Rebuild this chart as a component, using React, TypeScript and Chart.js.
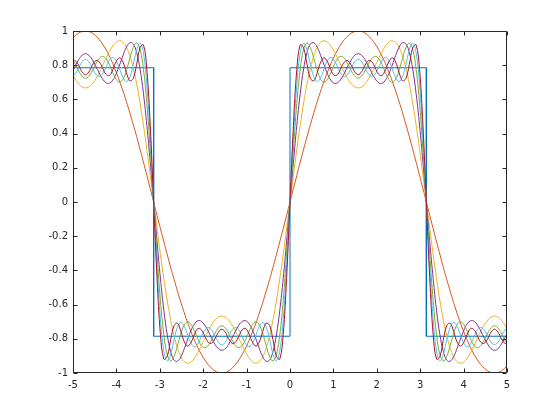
import React, { useEffect, useRef } from "react";
import { Chart, registerables } from "chart.js";

Chart.register(...registerables);

// x samples (step pi/40)
const xs = [
  -5.027,-4.948,-4.869,-4.791,-4.712,-4.634,-4.555,-4.477,-4.398,-4.320,-4.241,-4.163,-4.084,-4.006,-3.927,-3.848,-3.770,-3.691,-3.613,-3.534,-3.456,-3.377,-3.299,-3.220,-3.142,-3.063,-2.985,-2.906,-2.827,-2.749,-2.670,-2.592,-2.513,-2.435,-2.356,-2.278,-2.199,-2.121,-2.042,-1.963,-1.885,-1.806,-1.728,-1.649,-1.571,-1.492,-1.414,-1.335,-1.257,-1.178,-1.100,-1.021,-0.942,-0.864,-0.785,-0.707,-0.628,-0.550,-0.471,-0.393,-0.314,-0.236,-0.157,-0.079,
  0,
  0.079,0.157,0.236,0.314,0.393,0.471,0.550,0.628,0.707,0.785,0.864,0.942,1.021,1.100,1.178,1.257,1.335,1.414,1.492,1.571,1.649,1.728,1.806,1.885,1.963,2.042,2.121,2.199,2.278,2.356,2.435,2.513,2.592,2.670,2.749,2.827,2.906,2.985,3.063,3.142,3.220,3.299,3.377,3.456,3.534,3.613,3.691,3.770,3.848,3.927,4.006,4.084,4.163,4.241,4.320,4.398,4.477,4.555,4.634,4.712,4.791,4.869,4.948,5.027,
];

// square wave outline
const squareX = [-5, -3.1416, -3.1416, 0, 0, 3.1416, 3.1416, 5];
const squareY = [0.785, 0.785, -0.785, -0.785, 0.785, 0.785, -0.785, -0.785];

const s1 = [
  .951,.972,.988,.997,
  1,.997,.988,.972,.951,.924,.891,.853,.809,.760,.707,.649,.588,.522,.454,.383,.309,.233,.156,.079,
  0,
  -.079,-.156,-.233,-.309,-.383,-.454,-.522,-.588,-.649,-.707,-.760,-.809,-.853,-.891,-.924,-.951,-.972,-.988,-.997,
  -1,
  -.997,-.988,-.972,-.951,-.924,-.891,-.853,-.809,-.760,-.707,-.649,-.588,-.522,-.454,-.383,-.309,-.233,-.156,-.079,
  0,
  .079,.156,.233,.309,.383,.454,.522,.588,.649,.707,.760,.809,.853,.891,.924,.951,.972,.988,.997,
  1,
  .997,.988,.972,.951,.924,.891,.853,.809,.760,.707,.649,.588,.522,.454,.383,.309,.233,.156,.079,
  0,
  -.079,-.156,-.233,-.309,-.383,-.454,-.522,-.588,-.649,-.707,-.760,-.809,-.853,-.891,-.924,-.951,-.972,-.988,-.997,-1,
  -.997,-.988,-.972,-.951,
];

const s2 = [
  .755,.719,.691,.673,
  .667,.673,.691,.719,.755,.796,.839,.879,.912,.935,.943,.934,.905,.855,.783,.691,.579,.450,.308,.156,
  0,
  -.156,-.308,-.450,-.579,-.691,-.783,-.855,-.905,-.934,-.943,-.935,-.912,-.879,-.839,-.796,-.755,-.719,-.691,-.673,
  -.667,
  -.673,-.691,-.719,-.755,-.796,-.839,-.879,-.912,-.935,-.943,-.934,-.905,-.855,-.783,-.691,-.579,-.450,-.308,-.156,
  0,
  .156,.308,.450,.579,.691,.783,.855,.905,.934,.943,.935,.912,.879,.839,.796,.755,.719,.691,.673,
  .667,
  .673,.691,.719,.755,.796,.839,.879,.912,.935,.943,.934,.905,.855,.783,.691,.579,.450,.308,.156,
  0,
  -.156,-.308,-.450,-.579,-.691,-.783,-.855,-.905,-.934,-.943,-.935,-.912,-.879,-.839,-.796,-.755,-.719,-.691,-.673,-.667,
  -.673,-.691,-.719,-.755,
];

const s3 = [
  .755,.796,.832,.858,
  .867,.858,.832,.796,.755,.720,.698,.694,.712,.750,.801,.857,.905,.931,.925,.875,.779,.635,.449,.233,
  0,
  -.233,-.449,-.635,-.779,-.875,-.925,-.931,-.905,-.857,-.801,-.750,-.712,-.694,-.698,-.720,-.755,-.796,-.832,-.858,
  -.867,
  -.858,-.832,-.796,-.755,-.720,-.698,-.694,-.712,-.750,-.801,-.857,-.905,-.931,-.925,-.875,-.779,-.635,-.449,-.233,
  0,
  .233,.449,.635,.779,.875,.925,.931,.905,.857,.801,.750,.712,.694,.698,.720,.755,.796,.832,.858,
  .867,
  .858,.832,.796,.755,.720,.698,.694,.712,.750,.801,.857,.905,.931,.925,.875,.779,.635,.449,.233,
  0,
  -.233,-.449,-.635,-.779,-.875,-.925,-.931,-.905,-.857,-.801,-.750,-.712,-.694,-.698,-.720,-.755,-.796,-.832,-.858,-.867,
  -.858,-.832,-.796,-.755,
];

const s4 = [
  .839,.807,.767,.736,
  .724,.736,.767,.807,.839,.852,.839,.803,.756,.717,.700,.718,.769,.839,.902,.930,.894,.777,.577,.308,
  0,
  -.308,-.577,-.777,-.894,-.930,-.902,-.839,-.769,-.718,-.700,-.717,-.756,-.803,-.839,-.852,-.839,-.807,-.767,-.736,
  -.724,
  -.736,-.767,-.807,-.839,-.852,-.839,-.803,-.756,-.717,-.700,-.718,-.769,-.839,-.902,-.930,-.894,-.777,-.577,-.308,
  0,
  .308,.577,.777,.894,.930,.902,.839,.769,.718,.700,.717,.756,.803,.839,.852,.839,.807,.767,.736,
  .724,
  .736,.767,.807,.839,.852,.839,.803,.756,.717,.700,.718,.769,.839,.902,.930,.894,.777,.577,.308,
  0,
  -.308,-.577,-.777,-.894,-.930,-.902,-.839,-.769,-.718,-.700,-.717,-.756,-.803,-.839,-.852,-.839,-.807,-.767,-.736,-.724,
  -.736,-.767,-.807,-.839,
];

const s5 = [
  .734,.749,.785,.820,
  .835,.820,.785,.749,.734,.749,.788,.829,.846,.827,.779,.727,.704,.731,.803,.888,.929,.872,.686,.380,
  0,
  -.380,-.686,-.872,-.929,-.888,-.803,-.731,-.704,-.727,-.779,-.827,-.846,-.829,-.788,-.749,-.734,-.749,-.785,-.820,
  -.835,
  -.820,-.785,-.749,-.734,-.749,-.788,-.829,-.846,-.827,-.779,-.727,-.704,-.731,-.803,-.888,-.929,-.872,-.686,-.380,
  0,
  .380,.686,.872,.929,.888,.803,.731,.704,.727,.779,.827,.846,.829,.788,.749,.734,.749,.785,.820,
  .835,
  .820,.785,.749,.734,.749,.788,.829,.846,.827,.779,.727,.704,.731,.803,.888,.929,.872,.686,.380,
  0,
  -.380,-.686,-.872,-.929,-.888,-.803,-.731,-.704,-.727,-.779,-.827,-.846,-.829,-.788,-.749,-.734,-.749,-.785,-.820,-.835,
  -.820,-.785,-.749,-.734,
];

const s6 = [
  .820,.826,.799,.761,
  .744,.761,.799,.826,.820,.784,.747,.740,.773,.820,.843,.818,.757,.709,.722,.804,.901,.919,.776,.449,
  0,
  -.449,-.776,-.919,-.901,-.804,-.722,-.709,-.757,-.818,-.843,-.820,-.773,-.740,-.747,-.784,-.820,-.826,-.799,-.761,
  -.744,
  -.761,-.799,-.826,-.820,-.784,-.747,-.740,-.773,-.820,-.843,-.818,-.757,-.709,-.722,-.804,-.901,-.919,-.776,-.449,
  0,
  .449,.776,.919,.901,.804,.722,.709,.757,.818,.843,.820,.773,.740,.747,.784,.820,.826,.799,.761,
  .744,
  .761,.799,.826,.820,.784,.747,.740,.773,.820,.843,.818,.757,.709,.722,.804,.901,.919,.776,.449,
  0,
  -.449,-.776,-.919,-.901,-.804,-.722,-.709,-.757,-.818,-.843,-.820,-.773,-.740,-.747,-.784,-.820,-.826,-.799,-.761,-.744,
  -.761,-.799,-.826,-.820,
];

const xTicks = [-5, -4, -3, -2, -1, 0, 1, 2, 3, 4, 5];
const xTickLabels = ["-5", "-4", "-3", "-2", "-1", "0", "1", "2", "3", "4", "5"];
const yTicks = [-1, -0.8, -0.6, -0.4, -0.2, 0, 0.2, 0.4, 0.6, 0.8, 1];
const yTickLabels = ["-1", "-0.8", "-0.6", "-0.4", "-0.2", "0", "0.2", "0.4", "0.6", "0.8", "1"];

const curves = [s1, s2, s3, s4, s5, s6];
const curveColors = ["#D95319", "#EDB120", "#7E2F8E", "#77AC30", "#4DBEEE", "#A2142F"];
const squareColor = "#0072BD";
const axisColor = "#262626";

const boxPlugin = {
  id: "octaveBox",
  afterDraw(chart: any) {
    const { ctx, chartArea } = chart;
    const { left, right, top, bottom } = chartArea;
    const xs_ = chart.scales.x;
    const ys_ = chart.scales.y;
    ctx.save();
    ctx.strokeStyle = axisColor;
    ctx.lineWidth = 1;
    const L = Math.round(left) + 0.5;
    const R = Math.round(right) - 0.5;
    const T = Math.round(top) + 0.5;
    const B = Math.round(bottom) - 0.5;
    ctx.beginPath();
    ctx.rect(L, T, R - L, B - T);
    const tl = 4;
    xTicks.forEach((v) => {
      const p = Math.round(xs_.getPixelForValue(v)) + 0.5;
      ctx.moveTo(p, B);
      ctx.lineTo(p, B - tl);
      ctx.moveTo(p, T);
      ctx.lineTo(p, T + tl);
    });
    yTicks.forEach((v) => {
      const p = Math.round(ys_.getPixelForValue(v)) + 0.5;
      ctx.moveTo(L, p);
      ctx.lineTo(L + tl, p);
      ctx.moveTo(R, p);
      ctx.lineTo(R - tl, p);
    });
    ctx.stroke();
    ctx.restore();
  },
};

export default function App() {
  const ref = useRef<HTMLCanvasElement | null>(null);
  useEffect(() => {
    if (!ref.current) return;
    const datasets: any[] = [
      {
        data: squareX.map((x, i) => ({ x, y: squareY[i] })),
        borderColor: squareColor,
        borderWidth: 1,
        pointRadius: 0,
        tension: 0,
        order: 6,
      },
      ...curves.map((s, j) => ({
        data: xs.map((x, i) => ({ x, y: s[i] })),
        borderColor: curveColors[j],
        borderWidth: 1,
        pointRadius: 0,
        tension: 0.4,
        order: 5 - j,
      })),
    ];
    const font = { family: "DejaVu Sans", size: 10 };
    const chart = new Chart(ref.current, {
      type: "line",
      data: { datasets },
      plugins: [boxPlugin],
      options: {
        animation: false,
        responsive: false,
        events: [],
        layout: { padding: { left: 0, right: 53, top: 31, bottom: 0 } },
        plugins: { legend: { display: false }, tooltip: { enabled: false } },
        scales: {
          x: {
            type: "linear",
            min: -5,
            max: 5,
            grid: { display: false, drawTicks: false },
            border: { display: false },
            afterBuildTicks: (s: any) => {
              s.ticks = xTicks.map((v) => ({ value: v }));
            },
            afterFit: (s: any) => {
              s.height = 47;
            },
            ticks: {
              autoSkip: false,
              maxRotation: 0,
              padding: 6,
              color: axisColor,
              font,
              callback: (_v: any, i: number) => xTickLabels[i],
            },
          },
          y: {
            type: "linear",
            min: -1,
            max: 1,
            grid: { display: false, drawTicks: false },
            border: { display: false },
            afterBuildTicks: (s: any) => {
              s.ticks = yTicks.map((v) => ({ value: v }));
            },
            afterFit: (s: any) => {
              s.width = 73;
            },
            ticks: {
              autoSkip: false,
              padding: 5,
              color: axisColor,
              font,
              callback: (_v: any, i: number) => yTickLabels[i],
            },
          },
        },
      },
    });
    return () => chart.destroy();
  }, []);
  return (
    <div style={{ position: "fixed", left: 0, top: 0, width: 560, height: 420, background: "#fff" }}>
      <canvas ref={ref} width={560} height={420} />
    </div>
  );
}
